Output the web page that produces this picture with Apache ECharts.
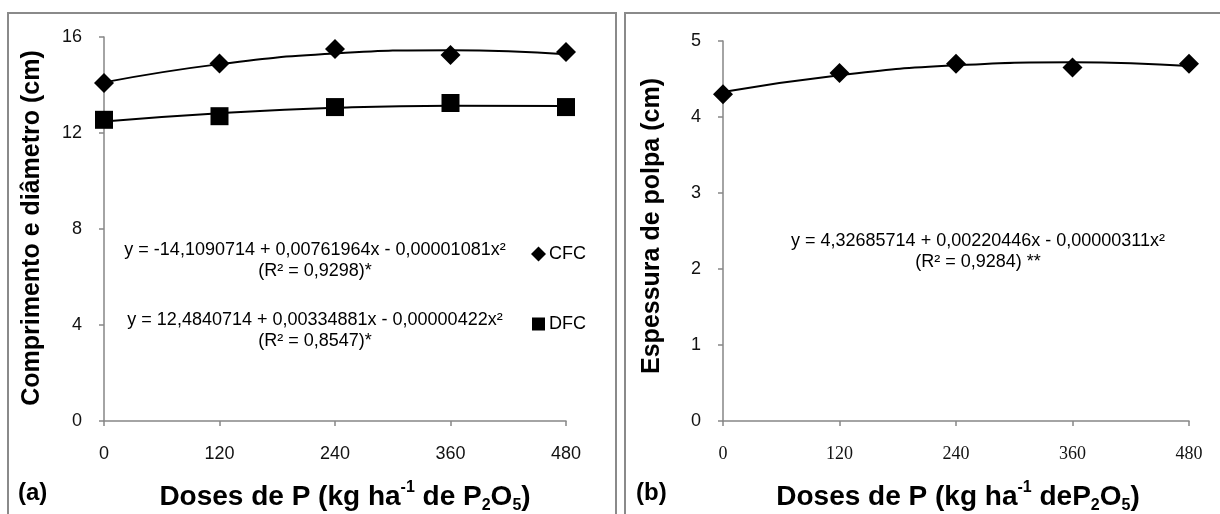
<!DOCTYPE html>
<html>
<head>
<meta charset="utf-8">
<script src="https://cdn.jsdelivr.net/npm/echarts@6/dist/echarts.min.js"></script>
<style>
html,body{margin:0;padding:0;background:#fff;}
#c{width:1220px;height:514px;}
</style>
</head>
<body>
<div id="c"></div>
<script>
// ---- data ----
const doses = [0, 120, 240, 360, 480];
const cfcObserved = [14.08, 14.9, 15.5, 15.25, 15.38];
const cfcTrend = [14.11, 14.87, 15.31, 15.45, 15.28];
const dfcObserved = [12.55, 12.7, 13.08, 13.25, 13.08];
const dfcTrend = [12.48, 12.82, 13.05, 13.14, 13.12];
const polpaObserved = [4.3, 4.58, 4.7, 4.65, 4.7];
const polpaTrend = [4.33, 4.55, 4.68, 4.72, 4.67];
const leftTicks = [0, 4, 8, 12, 16];
const rightTicks = [0, 1, 2, 3, 4, 5];
const eqCFC = ['y = -14,1090714 + 0,00761964x - 0,00001081x²', '(R² = 0,9298)*'];
const eqDFC = ['y = 12,4840714 + 0,00334881x - 0,00000422x²', '(R² = 0,8547)*'];
const eqPolpa = ['y = 4,32685714 + 0,00220446x - 0,00000311x²', '(R² = 0,9284) **'];

const pairs = (xs, ys) => xs.map((x, i) => [x, ys[i]]);
const axisGray = '#868686';
const sans = 'Liberation Sans, Arial, sans-serif';
const serif = 'Liberation Serif, Times New Roman, serif';

function xAxisDef(idx, labelFont) {
  return {
    type: 'value', gridIndex: idx, min: 0, max: 480, interval: 120,
    axisLine: {show: true, lineStyle: {color: axisGray, width: 1.5}},
    axisTick: {show: true, length: 5, lineStyle: {color: axisGray, width: 1.5}},
    splitLine: {show: false},
    axisLabel: {margin: 24, fontFamily: labelFont, fontSize: 18, color: '#111'}
  };
}
function yAxisDef(idx, max, interval) {
  return {
    type: 'value', gridIndex: idx, min: 0, max: max, interval: interval,
    axisLine: {show: true, lineStyle: {color: axisGray, width: 1.5}},
    axisTick: {show: true, length: 5, lineStyle: {color: axisGray, width: 1.5}},
    splitLine: {show: false},
    axisLabel: {margin: 22, fontFamily: sans, fontSize: 18, color: '#111'}
  };
}
function trend(name, xi, yi, data) {
  return {type: 'line', name: name + '_t', xAxisIndex: xi, yAxisIndex: yi, data: pairs(doses, data),
    smooth: true, showSymbol: false, symbol: 'none', lineStyle: {color: '#000', width: 2}, z: 2, silent: true};
}
function marks(name, xi, yi, data, symbol, size) {
  return {type: 'scatter', name: name, xAxisIndex: xi, yAxisIndex: yi, data: pairs(doses, data),
    symbol: symbol, symbolSize: size, itemStyle: {color: '#000', opacity: 1}, z: 3};
}
const richStyles = {
  n: {fontFamily: sans, fontWeight: 'bold', fontSize: 28, lineHeight: 34, color: '#000'},
  sup: {fontFamily: sans, fontWeight: 'bold', fontSize: 16, lineHeight: 20, verticalAlign: 'top', color: '#000'},
  sub: {fontFamily: sans, fontWeight: 'bold', fontSize: 16, lineHeight: 16, verticalAlign: 'bottom', color: '#000'}
};

const eqStyle = {fontFamily: sans, fontSize: 18, fill: '#000', textAlign: 'center', textVerticalAlign: 'middle'};

const option = {
  animation: false,
  backgroundColor: '#fff',
  grid: [
    {left: 104, top: 37, width: 462, height: 384},
    {left: 723, top: 41, width: 466, height: 380}
  ],
  xAxis: [xAxisDef(0, sans), xAxisDef(1, serif)],
  yAxis: [yAxisDef(0, leftTicks[leftTicks.length - 1], leftTicks[1] - leftTicks[0]),
          yAxisDef(1, rightTicks[rightTicks.length - 1], rightTicks[1] - rightTicks[0])],
  legend: [
    {data: [{name: 'CFC', icon: 'diamond'}], left: 526, top: 240, itemWidth: 15, itemHeight: 15, itemGap: 4,
     textStyle: {fontFamily: sans, fontSize: 18, color: '#000', padding: [0, 0, 0, -2]}, selectedMode: false},
    {data: [{name: 'DFC', icon: 'rect'}], left: 527, top: 310, itemWidth: 13, itemHeight: 13, itemGap: 4,
     textStyle: {fontFamily: sans, fontSize: 18, color: '#000', padding: [0, 0, 0, -1]}, selectedMode: false}
  ],
  series: [
    trend('CFC', 0, 0, cfcTrend),
    trend('DFC', 0, 0, dfcTrend),
    marks('CFC', 0, 0, cfcObserved, 'diamond', [20, 20]),
    marks('DFC', 0, 0, dfcObserved, 'rect', [18, 18]),
    trend('Polpa', 1, 1, polpaTrend),
    marks('Polpa', 1, 1, polpaObserved, 'diamond', [20, 20])
  ],
  graphic: [
    {type: 'rect', shape: {x: 8, y: 13, width: 608, height: 540}, style: {fill: 'none', stroke: '#8a8a8a', lineWidth: 2}, silent: true, z: 0},
    {type: 'rect', shape: {x: 625, y: 13, width: 640, height: 540}, style: {fill: 'none', stroke: '#8a8a8a', lineWidth: 2}, silent: true, z: 0},
    // equations left
    {type: 'text', x: 315, y: 250, style: Object.assign({text: eqCFC[0]}, eqStyle)},
    {type: 'text', x: 315, y: 271, style: Object.assign({text: eqCFC[1]}, eqStyle)},
    {type: 'text', x: 315, y: 320, style: Object.assign({text: eqDFC[0]}, eqStyle)},
    {type: 'text', x: 315, y: 341, style: Object.assign({text: eqDFC[1]}, eqStyle)},
    // equations right
    {type: 'text', x: 978, y: 241, style: Object.assign({text: eqPolpa[0]}, eqStyle)},
    {type: 'text', x: 978, y: 262, style: Object.assign({text: eqPolpa[1]}, eqStyle)},
    // y axis titles
    {type: 'text', x: 32, y: 228, rotation: Math.PI / 2,
     style: {text: 'Comprimento e diâmetro (cm)', fontFamily: sans, fontWeight: 'bold', fontSize: 25, fill: '#000', textAlign: 'center', textVerticalAlign: 'middle'}},
    {type: 'text', x: 652, y: 226, rotation: Math.PI / 2,
     style: {text: 'Espessura de polpa (cm)', fontFamily: sans, fontWeight: 'bold', fontSize: 25, fill: '#000', textAlign: 'center', textVerticalAlign: 'middle'}},
    // panel letters
    {type: 'text', x: 18, y: 493, style: {text: '(a)', fontFamily: sans, fontWeight: 'bold', fontSize: 24, fill: '#000', textAlign: 'left', textVerticalAlign: 'middle'}},
    {type: 'text', x: 636, y: 493, style: {text: '(b)', fontFamily: sans, fontWeight: 'bold', fontSize: 24, fill: '#000', textAlign: 'left', textVerticalAlign: 'middle'}},
    // x axis titles
    {type: 'text', x: 345, y: 497,
     style: {text: '{n|Doses de P (kg ha}{sup|-1}{n| de P}{sub|2}{n|O}{sub|5}{n|)}', rich: richStyles, textAlign: 'center', textVerticalAlign: 'middle'}},
    {type: 'text', x: 958, y: 497,
     style: {text: '{n|Doses de P (kg ha}{sup|-1}{n| deP}{sub|2}{n|O}{sub|5}{n|)}', rich: richStyles, textAlign: 'center', textVerticalAlign: 'middle'}}
  ]
};
const chart = echarts.init(document.getElementById('c'), null, {renderer: 'canvas'});
chart.setOption(option);
</script>
</body>
</html>
